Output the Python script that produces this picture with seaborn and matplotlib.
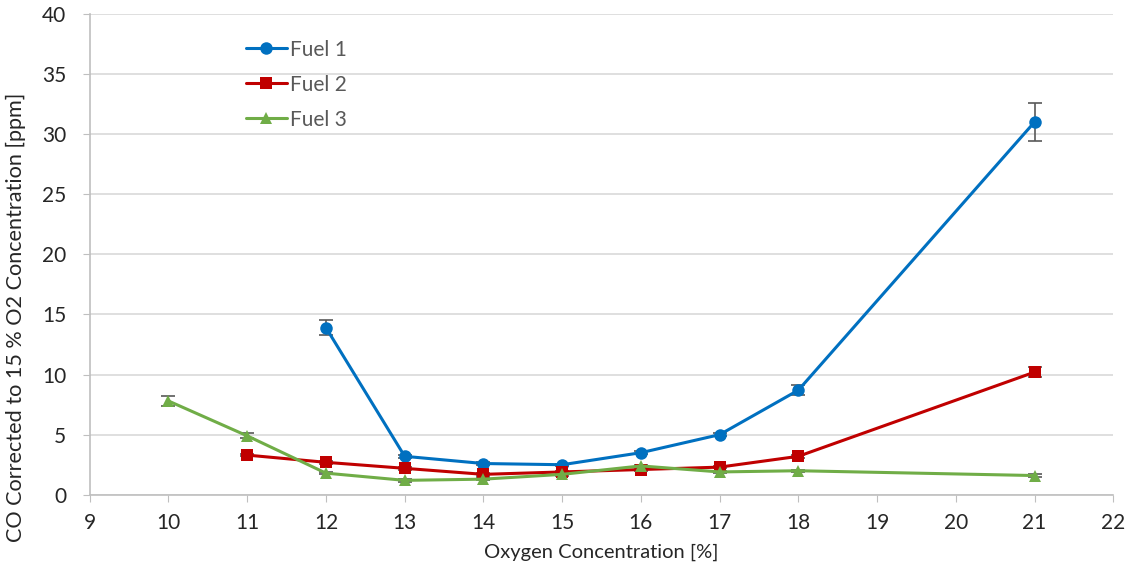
import pandas as pd
import numpy as np
import matplotlib.pyplot as plt
import seaborn as sns

# values
fuel1_x = [12, 13, 14, 15, 16, 17, 18, 21]
fuel1_y = [13.9, 3.2, 2.6, 2.5, 3.5, 5.0, 8.7, 31.0]
fuel1_err = [0.6, 0.15, 0.1, 0.1, 0.1, 0.15, 0.4, 1.55]

fuel2_x = [11, 12, 13, 14, 15, 16, 17, 18, 21]
fuel2_y = [3.3, 2.7, 2.2, 1.7, 1.9, 2.1, 2.3, 3.2, 10.2]
fuel2_err = [0.1, 0.1, 0.1, 0.1, 0.1, 0.1, 0.1, 0.1, 0.4]

fuel3_x = [10, 11, 12, 13, 14, 15, 16, 17, 18, 21]
fuel3_y = [7.8, 4.9, 1.8, 1.2, 1.3, 1.7, 2.4, 1.9, 2.0, 1.6]
fuel3_err = [0.4, 0.2, 0.1, 0.1, 0.1, 0.1, 0.1, 0.1, 0.1, 0.1]

series = ['Fuel 1', 'Fuel 2', 'Fuel 3']
colors = ['#0070C0', '#C00000', '#70AD47']
markers = ['o', 's', '^']

df = pd.concat([
    pd.DataFrame({'x': fuel1_x, 'y': fuel1_y, 'err': fuel1_err, 'fuel': 'Fuel 1'}),
    pd.DataFrame({'x': fuel2_x, 'y': fuel2_y, 'err': fuel2_err, 'fuel': 'Fuel 2'}),
    pd.DataFrame({'x': fuel3_x, 'y': fuel3_y, 'err': fuel3_err, 'fuel': 'Fuel 3'}),
])

sns.set_style("white")
plt.rcParams['font.family'] = ['Lato', 'DejaVu Sans']

fig, ax = plt.subplots(figsize=(11.36, 5.74), dpi=100)
fig.subplots_adjust(left=0.079, right=0.98, top=0.976, bottom=0.138)

for name, c in zip(series, colors):
    d = df[df['fuel'] == name]
    ax.errorbar(d['x'], d['y'], yerr=d['err'], fmt='none', ecolor='#595959',
                elinewidth=1.2, capsize=5, capthick=1.2, zorder=2)

sns.lineplot(data=df, x='x', y='y', hue='fuel', style='fuel', palette=colors,
             markers=markers, dashes=False, markersize=9, linewidth=2.2,
             markeredgewidth=0, ax=ax, zorder=3)

ax.set_xlim(9, 22)
ax.set_ylim(0, 40)
ax.set_xticks(range(9, 23))
ax.set_yticks(range(0, 41, 5))
ax.yaxis.grid(True, color='#D9D9D9', linewidth=1.2)
ax.set_axisbelow(True)
for s in ['top', 'right']:
    ax.spines[s].set_visible(False)
for s in ['left', 'bottom']:
    ax.spines[s].set_color('#BFBFBF')
    ax.spines[s].set_linewidth(1.2)
ax.tick_params(axis='x', direction='out', length=5, color='#BFBFBF', labelsize=15,
               labelcolor='#262626', bottom=True, pad=8)
ax.tick_params(axis='y', direction='out', length=5, color='#BFBFBF', labelsize=15,
               labelcolor='#262626', left=True, pad=12)

ax.set_xlabel('Oxygen Concentration [%]', fontsize=14.5, color='#262626', labelpad=8)
ax.set_ylabel('CO Corrected to 15 % O2 Concentration [ppm]', fontsize=15.6, color='#262626')
ax.yaxis.set_label_coords(-0.062, 0.368)

leg = ax.legend(loc='upper left', bbox_to_anchor=(0.134, 0.985), frameon=False,
                fontsize=15, labelspacing=0.72, handlelength=2.0, handletextpad=0.15)
for t in leg.get_texts():
    t.set_color('#595959')

fig.savefig('out.png', dpi=100)
